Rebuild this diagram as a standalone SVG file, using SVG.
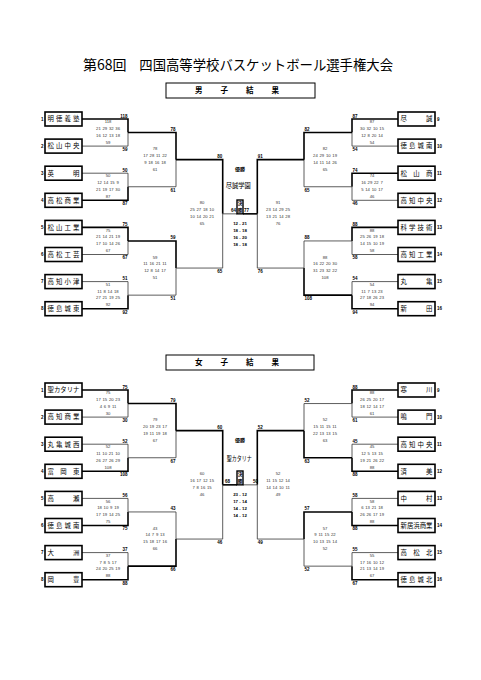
<svg xmlns="http://www.w3.org/2000/svg" width="481" height="680" viewBox="0 0 481 680">
<style>
text{font-family:"Noto Sans CJK JP","Noto Sans",sans-serif;fill:#000}
.ttl{font-size:14px}
.hd{font-size:7.5px;font-weight:bold}
.hbox{fill:#fff;stroke:#000;stroke-width:1}
.box{fill:#fff;stroke:#000;stroke-width:1.6}
.nm{font-size:6.4px}
.sd{font-family:"Liberation Sans",sans-serif;font-size:4.5px;font-weight:bold}
.c{font-family:"Liberation Sans",sans-serif;font-size:4.5px;font-weight:bold}
.e{text-anchor:end}
.s{text-anchor:start}
.q{font-family:"Liberation Sans",sans-serif;font-size:4.2px;fill:#333;text-anchor:middle;word-spacing:0.6px}
.qf{font-family:"Liberation Sans",sans-serif;font-size:4.4px;font-weight:bold;text-anchor:middle}
.th{fill:none;stroke:#000;stroke-width:1.6}
.tn{fill:none;stroke:#333;stroke-width:0.8}
.cb{fill:#fff;stroke:#000;stroke-width:1.4}
.cw{font-size:5px;font-weight:bold;text-anchor:middle}
.cn{font-size:7px}
</style>
<rect width="481" height="680" fill="#fff"/>
<g id="title">
<text class="ttl" x="83" y="70">第68回</text>
<text class="ttl" x="139.3" y="70" textLength="253.7" lengthAdjust="spacingAndGlyphs">四国高等学校バスケットボール選手権大会</text>
</g>
<g id="header-men"><rect class="hbox" x="166" y="83" width="149" height="15"/><text class="hd" x="195" y="93" textLength="84" lengthAdjust="spacing">男子結果</text></g>
<g id="header-women"><rect class="hbox" x="166" y="355" width="148" height="15"/><text class="hd" x="195" y="365" textLength="84" lengthAdjust="spacing">女子結果</text></g>

<g id="connectors">
<path class="th" d="M82 119H128V132.55"/><path class="tn" d="M82 146.1H128V132.55"/>
<path class="tn" d="M82 173.2H128V186.75"/><path class="th" d="M82 200.3H128V186.75"/>
<path class="th" d="M82 227.4H128V240.95"/><path class="tn" d="M82 254.5H128V240.95"/>
<path class="tn" d="M82 281.6H128V295.15"/><path class="th" d="M82 308.7H128V295.15"/>
<path class="th" d="M128 132.55H176V159.65"/><path class="tn" d="M128 186.75H176V159.65"/>
<path class="th" d="M128 240.95H176V268.05"/><path class="tn" d="M128 295.15H176V268.05"/>
<path class="th" d="M176 159.65H222.7V213.85"/><path class="tn" d="M176 268.05H222.7V213.85"/>
<path class="tn" d="M222.7 213.85H237"/><path class="th" d="M257.3 213.85H243"/>
<path class="th" d="M398 119H352V132.55"/><path class="tn" d="M398 146.1H352V132.55"/>
<path class="th" d="M398 173.2H352V186.75"/><path class="tn" d="M398 200.3H352V186.75"/>
<path class="th" d="M398 227.4H352V240.95"/><path class="tn" d="M398 254.5H352V240.95"/>
<path class="tn" d="M398 281.6H352V295.15"/><path class="th" d="M398 308.7H352V295.15"/>
<path class="th" d="M352 132.55H304V159.65"/><path class="tn" d="M352 186.75H304V159.65"/>
<path class="tn" d="M352 240.95H304V268.05"/><path class="th" d="M352 295.15H304V268.05"/>
<path class="th" d="M304 159.65H257.3V213.85"/><path class="tn" d="M304 268.05H257.3V213.85"/>
<path class="th" d="M82 390H128V403.55"/><path class="tn" d="M82 417.1H128V403.55"/>
<path class="tn" d="M82 444.2H128V457.75"/><path class="th" d="M82 471.3H128V457.75"/>
<path class="tn" d="M82 498.4H128V511.95"/><path class="th" d="M82 525.5H128V511.95"/>
<path class="tn" d="M82 552.6H128V566.15"/><path class="th" d="M82 579.7H128V566.15"/>
<path class="th" d="M128 403.55H176V430.65"/><path class="tn" d="M128 457.75H176V430.65"/>
<path class="tn" d="M128 511.95H176V539.05"/><path class="th" d="M128 566.15H176V539.05"/>
<path class="th" d="M176 430.65H222.7V484.85"/><path class="tn" d="M176 539.05H222.7V484.85"/>
<path class="th" d="M222.7 484.85H237"/><path class="tn" d="M257.3 484.85H243"/>
<path class="th" d="M398 390H352V403.55"/><path class="tn" d="M398 417.1H352V403.55"/>
<path class="tn" d="M398 444.2H352V457.75"/><path class="th" d="M398 471.3H352V457.75"/>
<path class="tn" d="M398 498.4H352V511.95"/><path class="th" d="M398 525.5H352V511.95"/>
<path class="tn" d="M398 552.6H352V566.15"/><path class="th" d="M398 579.7H352V566.15"/>
<path class="tn" d="M352 403.55H304V430.65"/><path class="th" d="M352 457.75H304V430.65"/>
<path class="th" d="M352 511.95H304V539.05"/><path class="tn" d="M352 566.15H304V539.05"/>
<path class="th" d="M304 430.65H257.3V484.85"/><path class="tn" d="M304 539.05H257.3V484.85"/>
</g>

<g id="m1"><rect class="box" x="45" y="112" width="37" height="14"/><text class="nm" x="47.5" y="121.3" textLength="32" lengthAdjust="spacing">明徳義塾</text><text class="sd e" x="43.5" y="120.6">1</text></g>
<g id="m2"><rect class="box" x="45" y="139.1" width="37" height="14"/><text class="nm" x="47.5" y="148.4" textLength="32" lengthAdjust="spacing">松山中央</text><text class="sd e" x="43.5" y="147.7">2</text></g>
<g id="m3"><rect class="box" x="45" y="166.2" width="37" height="14"/><text class="nm" x="47.5" y="175.5" textLength="32" lengthAdjust="spacing">英明</text><text class="sd e" x="43.5" y="174.8">3</text></g>
<g id="m4"><rect class="box" x="45" y="193.3" width="37" height="14"/><text class="nm" x="47.5" y="202.6" textLength="32" lengthAdjust="spacing">高松商業</text><text class="sd e" x="43.5" y="201.9">4</text></g>
<g id="m5"><rect class="box" x="45" y="220.4" width="37" height="14"/><text class="nm" x="47.5" y="229.7" textLength="32" lengthAdjust="spacing">松山工業</text><text class="sd e" x="43.5" y="229">5</text></g>
<g id="m6"><rect class="box" x="45" y="247.5" width="37" height="14"/><text class="nm" x="47.5" y="256.8" textLength="32" lengthAdjust="spacing">高松工芸</text><text class="sd e" x="43.5" y="256.1">6</text></g>
<g id="m7"><rect class="box" x="45" y="274.6" width="37" height="14"/><text class="nm" x="47.5" y="283.9" textLength="32" lengthAdjust="spacing">高知小津</text><text class="sd e" x="43.5" y="283.2">7</text></g>
<g id="m8"><rect class="box" x="45" y="301.7" width="37" height="14"/><text class="nm" x="47.5" y="311" textLength="32" lengthAdjust="spacing">徳島城東</text><text class="sd e" x="43.5" y="310.3">8</text></g>
<g id="m9"><rect class="box" x="398" y="112" width="37" height="14"/><text class="nm" x="400.5" y="121.3" textLength="32" lengthAdjust="spacing">尽誠</text><text class="sd s" x="437" y="120.6">9</text></g>
<g id="m10"><rect class="box" x="398" y="139.1" width="37" height="14"/><text class="nm" x="400.5" y="148.4" textLength="32" lengthAdjust="spacing">徳島城南</text><text class="sd s" x="437" y="147.7">10</text></g>
<g id="m11"><rect class="box" x="398" y="166.2" width="37" height="14"/><text class="nm" x="400.5" y="175.5" textLength="32" lengthAdjust="spacing">松山商</text><text class="sd s" x="437" y="174.8">11</text></g>
<g id="m12"><rect class="box" x="398" y="193.3" width="37" height="14"/><text class="nm" x="400.5" y="202.6" textLength="32" lengthAdjust="spacing">高知中央</text><text class="sd s" x="437" y="201.9">12</text></g>
<g id="m13"><rect class="box" x="398" y="220.4" width="37" height="14"/><text class="nm" x="400.5" y="229.7" textLength="32" lengthAdjust="spacing">科学技術</text><text class="sd s" x="437" y="229">13</text></g>
<g id="m14"><rect class="box" x="398" y="247.5" width="37" height="14"/><text class="nm" x="400.5" y="256.8" textLength="32" lengthAdjust="spacing">高知工業</text><text class="sd s" x="437" y="256.1">14</text></g>
<g id="m15"><rect class="box" x="398" y="274.6" width="37" height="14"/><text class="nm" x="400.5" y="283.9" textLength="32" lengthAdjust="spacing">丸亀</text><text class="sd s" x="437" y="283.2">15</text></g>
<g id="m16"><rect class="box" x="398" y="301.7" width="37" height="14"/><text class="nm" x="400.5" y="311" textLength="32" lengthAdjust="spacing">新田</text><text class="sd s" x="437" y="310.3">16</text></g>

<g id="w1"><rect class="box" x="45" y="383" width="37" height="14"/><text class="nm" x="47.5" y="392.3" textLength="32" lengthAdjust="spacing">聖カタリナ</text><text class="sd e" x="43.5" y="391.6">1</text></g>
<g id="w2"><rect class="box" x="45" y="410.1" width="37" height="14"/><text class="nm" x="47.5" y="419.4" textLength="32" lengthAdjust="spacing">高知商業</text><text class="sd e" x="43.5" y="418.7">2</text></g>
<g id="w3"><rect class="box" x="45" y="437.2" width="37" height="14"/><text class="nm" x="47.5" y="446.5" textLength="32" lengthAdjust="spacing">丸亀城西</text><text class="sd e" x="43.5" y="445.8">3</text></g>
<g id="w4"><rect class="box" x="45" y="464.3" width="37" height="14"/><text class="nm" x="47.5" y="473.6" textLength="32" lengthAdjust="spacing">富岡東</text><text class="sd e" x="43.5" y="472.9">4</text></g>
<g id="w5"><rect class="box" x="45" y="491.4" width="37" height="14"/><text class="nm" x="47.5" y="500.7" textLength="32" lengthAdjust="spacing">高瀬</text><text class="sd e" x="43.5" y="500">5</text></g>
<g id="w6"><rect class="box" x="45" y="518.5" width="37" height="14"/><text class="nm" x="47.5" y="527.8" textLength="32" lengthAdjust="spacing">徳島城南</text><text class="sd e" x="43.5" y="527.1">6</text></g>
<g id="w7"><rect class="box" x="45" y="545.6" width="37" height="14"/><text class="nm" x="47.5" y="554.9" textLength="32" lengthAdjust="spacing">大洲</text><text class="sd e" x="43.5" y="554.2">7</text></g>
<g id="w8"><rect class="box" x="45" y="572.7" width="37" height="14"/><text class="nm" x="47.5" y="582" textLength="32" lengthAdjust="spacing">岡豊</text><text class="sd e" x="43.5" y="581.3">8</text></g>
<g id="w9"><rect class="box" x="398" y="383" width="37" height="14"/><text class="nm" x="400.5" y="392.3" textLength="32" lengthAdjust="spacing">寒川</text><text class="sd s" x="437" y="391.6">9</text></g>
<g id="w10"><rect class="box" x="398" y="410.1" width="37" height="14"/><text class="nm" x="400.5" y="419.4" textLength="32" lengthAdjust="spacing">鳴門</text><text class="sd s" x="437" y="418.7">10</text></g>
<g id="w11"><rect class="box" x="398" y="437.2" width="37" height="14"/><text class="nm" x="400.5" y="446.5" textLength="32" lengthAdjust="spacing">高知中央</text><text class="sd s" x="437" y="445.8">11</text></g>
<g id="w12"><rect class="box" x="398" y="464.3" width="37" height="14"/><text class="nm" x="400.5" y="473.6" textLength="32" lengthAdjust="spacing">済美</text><text class="sd s" x="437" y="472.9">12</text></g>
<g id="w13"><rect class="box" x="398" y="491.4" width="37" height="14"/><text class="nm" x="400.5" y="500.7" textLength="32" lengthAdjust="spacing">中村</text><text class="sd s" x="437" y="500">13</text></g>
<g id="w14"><rect class="box" x="398" y="518.5" width="37" height="14"/><text class="nm" x="400.5" y="527.8" textLength="32" lengthAdjust="spacing">新居浜商業</text><text class="sd s" x="437" y="527.1">14</text></g>
<g id="w15"><rect class="box" x="398" y="545.6" width="37" height="14"/><text class="nm" x="400.5" y="554.9" textLength="32" lengthAdjust="spacing">高松北</text><text class="sd s" x="437" y="554.2">15</text></g>
<g id="w16"><rect class="box" x="398" y="572.7" width="37" height="14"/><text class="nm" x="400.5" y="582" textLength="32" lengthAdjust="spacing">徳島城北</text><text class="sd s" x="437" y="581.3">16</text></g>

<g id="men-scores">
<text class="c e" x="127.5" y="117.5">118</text><text class="c e" x="127.5" y="150.9">59</text>
<text class="q" transform="translate(108 132.55)"><tspan x="0" y="-9.4">118</tspan><tspan x="0" y="-2.6">21 29 32 36</tspan><tspan x="0" y="4.2">16 12 13 18</tspan><tspan x="0" y="11">59</tspan></text>
<text class="c e" x="127.5" y="171.7">50</text><text class="c e" x="127.5" y="205.1">87</text>
<text class="q" transform="translate(108 186.75)"><tspan x="0" y="-9.4">50</tspan><tspan x="0" y="-2.6">12 14 15 9</tspan><tspan x="0" y="4.2">21 19 17 30</tspan><tspan x="0" y="11">87</tspan></text>
<text class="c e" x="127.5" y="225.9">75</text><text class="c e" x="127.5" y="259.3">67</text>
<text class="q" transform="translate(108 240.95)"><tspan x="0" y="-9.4">75</tspan><tspan x="0" y="-2.6">21 14 21 19</tspan><tspan x="0" y="4.2">17 10 14 26</tspan><tspan x="0" y="11">67</tspan></text>
<text class="c e" x="127.5" y="280.1">51</text><text class="c e" x="127.5" y="313.5">92</text>
<text class="q" transform="translate(108 295.15)"><tspan x="0" y="-9.4">51</tspan><tspan x="0" y="-2.6">11 8 14 18</tspan><tspan x="0" y="4.2">27 21 19 25</tspan><tspan x="0" y="11">92</tspan></text>
<text class="c e" x="175.5" y="131.05">78</text><text class="c e" x="175.5" y="191.55">61</text>
<text class="q" transform="translate(155 159.65)"><tspan x="0" y="-9.4">78</tspan><tspan x="0" y="-2.6">17 28 11 22</tspan><tspan x="0" y="4.2">9 18 16 18</tspan><tspan x="0" y="11">61</tspan></text>
<text class="c e" x="175.5" y="239.45">59</text><text class="c e" x="175.5" y="299.95">51</text>
<text class="q" transform="translate(155 268.05)"><tspan x="0" y="-9.4">59</tspan><tspan x="0" y="-2.6">11 16 21 11</tspan><tspan x="0" y="4.2">12 8 14 17</tspan><tspan x="0" y="11">51</tspan></text>
<text class="c e" x="222.2" y="158.15">80</text><text class="c e" x="222.2" y="272.85">65</text>
<text class="q" transform="translate(202 213.85)"><tspan x="0" y="-9.4">80</tspan><tspan x="0" y="-2.6">25 27 18 10</tspan><tspan x="0" y="4.2">10 14 20 21</tspan><tspan x="0" y="11">65</tspan></text>
<text class="c s" x="352.5" y="117.5">87</text><text class="c s" x="352.5" y="150.9">54</text>
<text class="q" transform="translate(372 132.55)"><tspan x="0" y="-9.4">87</tspan><tspan x="0" y="-2.6">30 32 10 15</tspan><tspan x="0" y="4.2">12 8 20 14</tspan><tspan x="0" y="11">54</tspan></text>
<text class="c s" x="352.5" y="171.7">74</text><text class="c s" x="352.5" y="205.1">46</text>
<text class="q" transform="translate(372 186.75)"><tspan x="0" y="-9.4">74</tspan><tspan x="0" y="-2.6">16 29 22 7</tspan><tspan x="0" y="4.2">5 14 10 17</tspan><tspan x="0" y="11">46</tspan></text>
<text class="c s" x="352.5" y="225.9">88</text><text class="c s" x="352.5" y="259.3">58</text>
<text class="q" transform="translate(372 240.95)"><tspan x="0" y="-9.4">88</tspan><tspan x="0" y="-2.6">25 26 19 18</tspan><tspan x="0" y="4.2">14 15 10 19</tspan><tspan x="0" y="11">58</tspan></text>
<text class="c s" x="352.5" y="280.1">54</text><text class="c s" x="352.5" y="313.5">94</text>
<text class="q" transform="translate(372 295.15)"><tspan x="0" y="-9.4">54</tspan><tspan x="0" y="-2.6">11 7 13 23</tspan><tspan x="0" y="4.2">27 18 26 23</tspan><tspan x="0" y="11">94</tspan></text>
<text class="c s" x="304.5" y="131.05">82</text><text class="c s" x="304.5" y="191.55">65</text>
<text class="q" transform="translate(325 159.65)"><tspan x="0" y="-9.4">82</tspan><tspan x="0" y="-2.6">24 29 10 19</tspan><tspan x="0" y="4.2">14 11 14 26</tspan><tspan x="0" y="11">65</tspan></text>
<text class="c s" x="304.5" y="239.45">88</text><text class="c s" x="304.5" y="299.95">108</text>
<text class="q" transform="translate(325 268.05)"><tspan x="0" y="-9.4">88</tspan><tspan x="0" y="-2.6">16 22 20 30</tspan><tspan x="0" y="4.2">31 23 32 22</tspan><tspan x="0" y="11">108</tspan></text>
<text class="c s" x="257.8" y="158.15">91</text><text class="c s" x="257.8" y="272.85">76</text>
<text class="q" transform="translate(278 213.85)"><tspan x="0" y="-9.4">91</tspan><tspan x="0" y="-2.6">23 14 29 25</tspan><tspan x="0" y="4.2">13 21 14 28</tspan><tspan x="0" y="11">76</tspan></text>
</g>
<g id="men-final">
<text class="cw" x="240" y="171">優勝</text>
<text class="cn" x="225.7" y="187.5" textLength="25" lengthAdjust="spacingAndGlyphs">尽誠学園</text>
<rect class="cb" x="237" y="200" width="6" height="13.85"/>
<text class="cw" x="240" y="205.2" style="font-size:4.5px">決</text><text class="cw" x="240" y="211.6" style="font-size:4.5px">勝</text>
<text class="c e" x="236" y="212.3">64</text><text class="c s" x="244" y="212.3">77</text>
<text class="qf" x="240" y="224.6">12 - 21</text><text class="qf" x="240" y="231.6">18 - 18</text><text class="qf" x="240" y="238.6">16 - 20</text><text class="qf" x="240" y="245.6">18 - 18</text>
</g>

<g id="women-scores">
<text class="c e" x="127.5" y="388.5">75</text><text class="c e" x="127.5" y="421.9">30</text>
<text class="q" transform="translate(108 403.55)"><tspan x="0" y="-9.4">75</tspan><tspan x="0" y="-2.6">17 15 20 23</tspan><tspan x="0" y="4.2">4 6 9 11</tspan><tspan x="0" y="11">30</tspan></text>
<text class="c e" x="127.5" y="442.7">52</text><text class="c e" x="127.5" y="476.1">108</text>
<text class="q" transform="translate(108 457.75)"><tspan x="0" y="-9.4">52</tspan><tspan x="0" y="-2.6">11 10 21 10</tspan><tspan x="0" y="4.2">26 27 26 29</tspan><tspan x="0" y="11">108</tspan></text>
<text class="c e" x="127.5" y="496.9">56</text><text class="c e" x="127.5" y="530.3">75</text>
<text class="q" transform="translate(108 511.95)"><tspan x="0" y="-9.4">56</tspan><tspan x="0" y="-2.6">18 10 9 19</tspan><tspan x="0" y="4.2">17 19 14 25</tspan><tspan x="0" y="11">75</tspan></text>
<text class="c e" x="127.5" y="551.1">37</text><text class="c e" x="127.5" y="584.5">88</text>
<text class="q" transform="translate(108 566.15)"><tspan x="0" y="-9.4">37</tspan><tspan x="0" y="-2.6">7 8 5 17</tspan><tspan x="0" y="4.2">24 20 25 19</tspan><tspan x="0" y="11">88</tspan></text>
<text class="c e" x="175.5" y="402.05">79</text><text class="c e" x="175.5" y="462.55">67</text>
<text class="q" transform="translate(155 430.65)"><tspan x="0" y="-9.4">79</tspan><tspan x="0" y="-2.6">20 19 23 17</tspan><tspan x="0" y="4.2">19 11 19 18</tspan><tspan x="0" y="11">67</tspan></text>
<text class="c e" x="175.5" y="510.45">43</text><text class="c e" x="175.5" y="570.95">66</text>
<text class="q" transform="translate(155 539.05)"><tspan x="0" y="-9.4">43</tspan><tspan x="0" y="-2.6">14 7 9 13</tspan><tspan x="0" y="4.2">15 18 17 16</tspan><tspan x="0" y="11">66</tspan></text>
<text class="c e" x="222.2" y="429.15">60</text><text class="c e" x="222.2" y="543.85">46</text>
<text class="q" transform="translate(202 484.85)"><tspan x="0" y="-9.4">60</tspan><tspan x="0" y="-2.6">16 17 12 15</tspan><tspan x="0" y="4.2">7 8 16 15</tspan><tspan x="0" y="11">46</tspan></text>
<text class="c s" x="352.5" y="388.5">88</text><text class="c s" x="352.5" y="421.9">61</text>
<text class="q" transform="translate(372 403.55)"><tspan x="0" y="-9.4">88</tspan><tspan x="0" y="-2.6">26 25 20 17</tspan><tspan x="0" y="4.2">18 12 14 17</tspan><tspan x="0" y="11">61</tspan></text>
<text class="c s" x="352.5" y="442.7">45</text><text class="c s" x="352.5" y="476.1">88</text>
<text class="q" transform="translate(372 457.75)"><tspan x="0" y="-9.4">45</tspan><tspan x="0" y="-2.6">12 5 13 15</tspan><tspan x="0" y="4.2">19 21 26 22</tspan><tspan x="0" y="11">88</tspan></text>
<text class="c s" x="352.5" y="496.9">58</text><text class="c s" x="352.5" y="530.3">88</text>
<text class="q" transform="translate(372 511.95)"><tspan x="0" y="-9.4">58</tspan><tspan x="0" y="-2.6">6 13 21 18</tspan><tspan x="0" y="4.2">26 26 17 19</tspan><tspan x="0" y="11">88</tspan></text>
<text class="c s" x="352.5" y="551.1">55</text><text class="c s" x="352.5" y="584.5">67</text>
<text class="q" transform="translate(372 566.15)"><tspan x="0" y="-9.4">55</tspan><tspan x="0" y="-2.6">17 16 10 12</tspan><tspan x="0" y="4.2">21 13 14 19</tspan><tspan x="0" y="11">67</tspan></text>
<text class="c s" x="304.5" y="402.05">52</text><text class="c s" x="304.5" y="462.55">63</text>
<text class="q" transform="translate(325 430.65)"><tspan x="0" y="-9.4">52</tspan><tspan x="0" y="-2.6">15 11 15 11</tspan><tspan x="0" y="4.2">22 13 13 15</tspan><tspan x="0" y="11">63</tspan></text>
<text class="c s" x="304.5" y="510.45">57</text><text class="c s" x="304.5" y="570.95">52</text>
<text class="q" transform="translate(325 539.05)"><tspan x="0" y="-9.4">57</tspan><tspan x="0" y="-2.6">9 11 15 22</tspan><tspan x="0" y="4.2">10 13 15 14</tspan><tspan x="0" y="11">52</tspan></text>
<text class="c s" x="257.8" y="429.15">52</text><text class="c s" x="257.8" y="543.85">49</text>
<text class="q" transform="translate(278 484.85)"><tspan x="0" y="-9.4">52</tspan><tspan x="0" y="-2.6">11 15 12 14</tspan><tspan x="0" y="4.2">14 14 10 11</tspan><tspan x="0" y="11">49</tspan></text>
</g>
<g id="women-final">
<text class="cw" x="240" y="442">優勝</text>
<text class="cn" x="226.7" y="460.5" textLength="25" lengthAdjust="spacingAndGlyphs">聖カタリナ</text>
<rect class="cb" x="237" y="471" width="6" height="13.85"/>
<text class="cw" x="240" y="476.4" style="font-size:4.5px">決</text><text class="cw" x="240" y="482.8" style="font-size:4.5px">勝</text>
<text class="c e" x="230" y="483.3">68</text><text class="c s" x="253" y="483.3">50</text>
<text class="qf" x="240" y="495.6">23 - 12</text><text class="qf" x="240" y="502.6">17 - 14</text><text class="qf" x="240" y="509.6">14 - 12</text><text class="qf" x="240" y="516.6">14 - 12</text>
</g>
</svg>
